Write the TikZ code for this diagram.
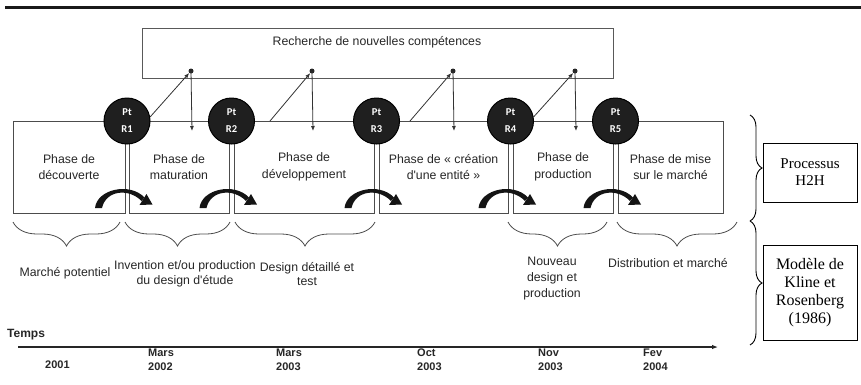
\documentclass[tikz,border=0pt]{standalone}
\usepackage{fontspec}
\setmainfont{Liberation Serif}
\newfontfamily\arial{Liberation Sans}
\newfontfamily\calib{Carlito}
\usetikzlibrary{decorations.pathreplacing,arrows.meta}
\begin{document}
\begin{tikzpicture}[x=1pt,y=-1pt,
  txt/.style={text=black!85, font=\arial\fontsize{12.3}{16}\selectfont, align=center, inner sep=0pt},
  phasebox/.style={draw=black!70, line width=0.9pt, minimum height=92pt, inner sep=0pt, text=black!85, font=\arial\fontsize{12.3}{16.5}\selectfont, align=center},
  circ/.style={circle, draw=black, line width=1pt, fill=black!88, minimum size=46pt, inner sep=0pt, text=white, font=\calib\bfseries\fontsize{10.5}{17}\selectfont, align=center},
  ln/.style={draw=black!80, line width=0.8pt},
  arr/.style={ln, -{Latex[length=5pt,width=4pt]}},
  brc/.style={draw=black!70, line width=0.8pt, decorate, decoration={brace, mirror, amplitude=24pt}},
  rbrc/.style={draw=black, line width=0.9pt, decorate, decoration={brace, amplitude=12pt}},
  dot/.style={circle, fill=black!85, minimum size=5pt, inner sep=0pt},
  serifbox/.style={draw=black, line width=0.9pt, minimum width=94pt, inner sep=0pt, align=center},
  yr/.style={text=black!85, font=\arial\bfseries\fontsize{11}{14}\selectfont, align=left, anchor=west, inner sep=0pt},
  curv/.pic={
    \fill[black!92] (-32,-5) .. controls (-30,-24) and (3,-31) .. (17.5,-15.5)
       -- (14.5,-12) .. controls (2,-25) and (-21,-23) .. (-25,-5) -- cycle;
    \fill[black!92] (19.5,-19) -- (25.5,-8.5) -- (12.5,-8) -- cycle;
  }
]
\useasboundingbox (0,0) rectangle (861,384);

% top rule
\draw[line width=3pt, black!90] (5,7) -- (861,7);

% top box
\node[draw=black!65, line width=0.9pt, minimum width=471pt, minimum height=50pt, inner sep=0pt] (topbox) at (377.5,53) {};
\node[txt] (toptxt) at (377,42) {Recherche de nouvelles compétences};

% phase boxes
\node[phasebox, minimum width=112pt] (B1) at (69,167) {Phase de\\découverte};
\node[phasebox, minimum width=100pt] (B2) at (179,167) {Phase de\\maturation};
\node[phasebox, minimum width=140pt] (B3) at (304,167) {Phase de\\développement};
\node[phasebox, minimum width=129pt] (B4) at (443.5,167) {Phase de « création\\d'une entité »};
\node[phasebox, minimum width=100pt] (B5) at (563,167) {Phase de\\production};
\node[phasebox, minimum width=105pt] (B6) at (670.5,167) {Phase de mise\\sur le marché};

% curved arrows
\pic at (127,213) {curv};
\pic at (231.5,213) {curv};
\pic at (376.5,213) {curv};
\pic at (510.5,213) {curv};
\pic at (615.5,213) {curv};

% dots and arrows
\node[dot] (d1) at (191,71) {};
\node[dot] (d2) at (312,71) {};
\node[dot] (d3) at (453,71) {};
\node[dot] (d4) at (575,71) {};
\coordinate (v1) at (192,131);
\coordinate (v2) at (313,131);
\coordinate (v3) at (454,131);
\coordinate (v4) at (576,131);
\coordinate (s2) at (270,121);
\coordinate (s3) at (410,121);

% circles
\node[circ] (R1) at (127,121) {Pt\\R1};
\node[circ] (R2) at (231.5,121) {Pt\\R2};
\node[circ] (R3) at (376.5,121) {Pt\\R3};
\node[circ] (R4) at (510.5,121) {Pt\\R4};
\node[circ] (R5) at (615.5,121) {Pt\\R5};

\draw[arr] (R1.10) -- (d1);
\draw[arr] (s2) -- (d2);
\draw[arr] (s3) -- (d3);
\draw[arr] (R4.10) -- (d4);
\draw[arr] (d1.center) -- (v1);
\draw[arr] (d2.center) -- (v2);
\draw[arr] (d3.center) -- (v3);
\draw[arr] (d4.center) -- (v4);

% bottom braces
\draw[brc] (13,222) -- (120,222);
\draw[brc] (125,222) -- (230,222);
\draw[brc] (235,222) -- (375,222);
\draw[brc] (508,222) -- (607,222);
\draw[brc] (617,222) -- (737,222);

\node[txt] (l1) at (65,273) {Marché potentiel};
\node[txt, font=\arial\fontsize{12.3}{14.5}\selectfont] (l2) at (185,274) {Invention et/ou production\\du design d'étude};
\node[txt, font=\arial\fontsize{12.3}{14.5}\selectfont] (l3) at (307,274) {Design détaillé et\\test};
\node[txt] (l4) at (552,279) {Nouveau\\design et\\production};
\node[txt] (l5) at (668,263) {Distribution et marché};

% right braces and boxes
\draw[rbrc] (750,115) -- (750,221);
\draw[rbrc] (750,221) -- (750,345);
\node[serifbox, minimum height=59pt, font=\fontsize{15}{17}\selectfont] (h2h) at (810,172.5) {Processus\\H2H};
\node[serifbox, minimum height=95pt, font=\fontsize{16}{18}\selectfont] (kr) at (810,292.5) {Modèle de\\Kline et\\Rosenberg\\(1986)};

% timeline
\node[yr, font=\arial\bfseries\fontsize{12}{14}\selectfont] (temps) at (7,335) {Temps};
\coordinate (t0) at (18,347);
\coordinate (t1) at (718,347);
\draw[draw=black!85, line width=1.1pt, -{Latex[length=6pt,width=4.5pt]}] (t0) -- (t1);
\node[yr] (y1) at (45,365) {2001};
\node[yr] (y2) at (148,360) {Mars\\2002};
\node[yr] (y3) at (276,360) {Mars\\2003};
\node[yr] (y4) at (417,360) {Oct\\2003};
\node[yr] (y5) at (538,360) {Nov\\2003};
\node[yr] (y6) at (643,360) {Fev\\2004};
\end{tikzpicture}
\end{document}
